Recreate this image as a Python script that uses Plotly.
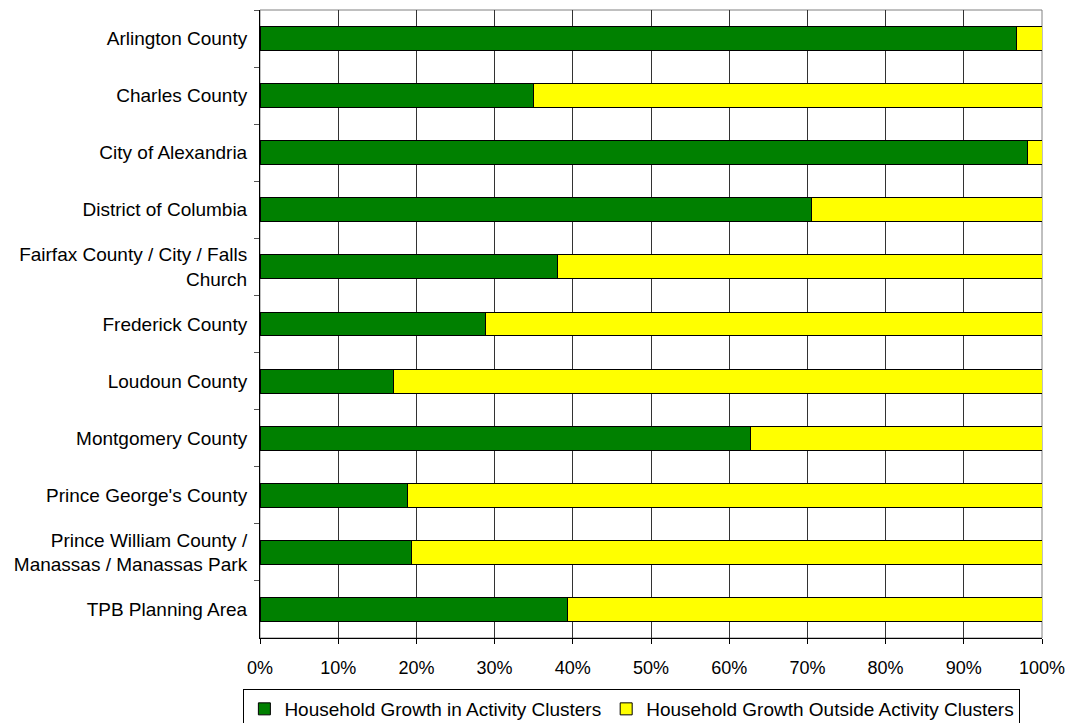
import plotly.graph_objects as go

categories = ["Arlington County", "Charles County", "City of Alexandria", "District of Columbia",
              "Fairfax County / City / Falls<br>Church", "Frederick County", "Loudoun County",
              "Montgomery County", "Prince George's County",
              "Prince William County /<br>Manassas / Manassas Park", "TPB Planning Area"]
inside = [96.8, 35.0, 98.2, 70.5, 38.0, 28.8, 17.1, 62.7, 18.8, 19.4, 39.3]
outside = [round(100 - v, 1) for v in inside]

fig = go.Figure()
fig.add_trace(go.Bar(y=categories, x=inside, orientation="h", name="Household Growth in Activity Clusters",
                     marker=dict(color="#008000", line=dict(color="black", width=1))))
fig.add_trace(go.Bar(y=categories, x=outside, orientation="h", name="Household Growth Outside Activity Clusters",
                     marker=dict(color="#FFFF00", line=dict(color="black", width=1))))

fig.update_layout(
    barmode="stack", bargap=0.58,
    width=1071, height=723,
    margin=dict(l=260, r=29, t=10, b=85, autoexpand=False),
    paper_bgcolor="white", plot_bgcolor="white",
    font=dict(family="Liberation Sans, Arial", size=19, color="black"),
    legend=dict(orientation="h", x=0.59, xanchor="center", xref="container",
                y=1 - 689 / 723, yanchor="top", yref="container",
                bordercolor="black", borderwidth=1, font=dict(size=19),
                itemwidth=30, traceorder="normal"),
    showlegend=True,
)
fig.update_xaxes(range=[0, 100], tickvals=list(range(0, 101, 10)),
                 ticktext=[f"{v}%" for v in range(0, 101, 10)],
                 tickfont=dict(size=18), ticklabelstandoff=8,
                 showgrid=True, gridcolor="#333333", gridwidth=1,
                 ticks="outside", ticklen=5, tickcolor="black",
                 showline=True, linecolor="black", linewidth=1, mirror=False,
                 zeroline=False)
fig.update_yaxes(autorange="reversed", tickson="boundaries", ticks="outside", ticklen=5,
                 tickcolor="#555555", showline=True, linecolor="black", linewidth=1,
                 showgrid=False, ticklabelstandoff=8)
fig.add_shape(type="rect", xref="paper", yref="paper", x0=0, x1=1, y0=0, y1=1,
              line=dict(color="#808080", width=1), layer="below")

fig.write_html("out.html")
